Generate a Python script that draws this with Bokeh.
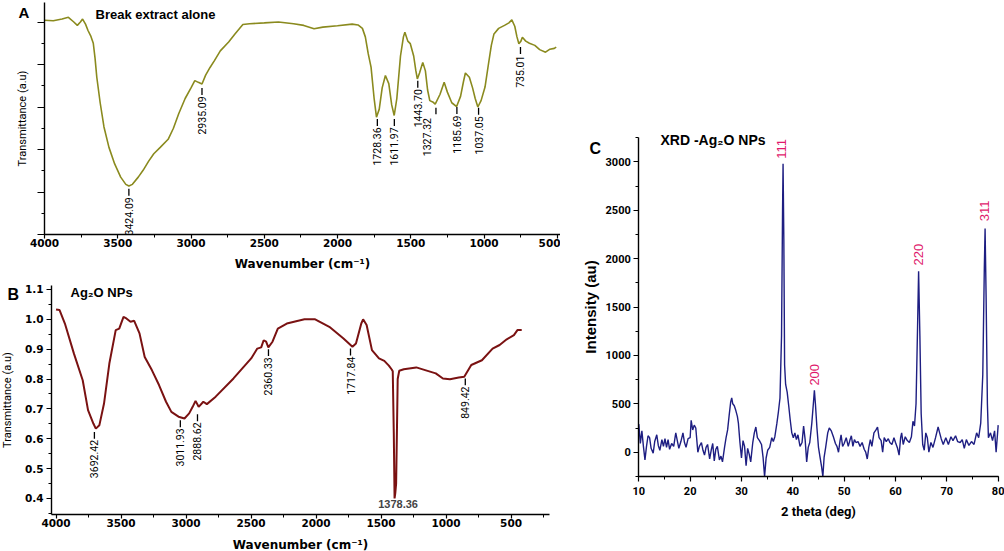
import math
from bokeh.plotting import figure
from bokeh.layouts import row, column
from bokeh.models import (ColumnDataSource, Label, Range1d, SingleIntervalTicker,
                          NumeralTickFormatter, CustomJSTickFormatter)
from bokeh.core.properties import value
from bokeh.embed import file_html
from bokeh.resources import INLINE

# ---------------- Panel A: FTIR of extract ----------------
a_wavenumber = [4000, 3940, 3880, 3837, 3800, 3776, 3755, 3740, 3720, 3703, 3683, 3667, 3655, 3643,
                3620, 3594, 3560, 3521, 3480, 3445, 3424, 3400, 3360, 3327, 3290, 3254, 3210, 3156,
                3120, 3084, 3040, 3000, 2974, 2950, 2925, 2900, 2870, 2840, 2800, 2743, 2700, 2646,
                2600, 2500, 2403, 2300, 2230, 2160, 2100, 2000, 1900, 1860, 1830, 1810, 1790, 1771,
                1750, 1734, 1715, 1695, 1673, 1650, 1630, 1613, 1595, 1570, 1550, 1540, 1520, 1503,
                1480, 1465, 1455, 1440, 1418, 1400, 1385, 1370, 1350, 1333, 1300, 1272, 1250, 1220,
                1187, 1160, 1140, 1127, 1100, 1078, 1060, 1042, 1020, 993, 970, 950, 932, 900, 860,
                830, 810, 790, 775, 762, 748, 738, 715, 690, 653, 620, 580, 550, 520, 507]
a_transmittance = [5.04, 5.03, 5.07, 5.11, 5.00, 4.92, 5.00, 5.07, 4.95, 4.80, 4.66, 4.50, 4.15, 3.70,
                   3.10, 2.53, 2.05, 1.66, 1.35, 1.18, 1.14, 1.18, 1.35, 1.51, 1.72, 1.90, 2.05, 2.24,
                   2.50, 2.84, 3.20, 3.45, 3.62, 3.58, 3.54, 3.75, 3.93, 4.09, 4.32, 4.53, 4.72, 4.94,
                   4.96, 4.98, 5.00, 4.96, 4.92, 4.84, 4.88, 4.91, 4.95, 4.93, 4.85, 4.65, 4.25, 3.94,
                   3.20, 2.76, 2.95, 3.45, 3.74, 3.55, 3.05, 2.80, 3.20, 4.20, 4.65, 4.76, 4.55, 4.49,
                   4.20, 3.85, 3.66, 3.80, 4.05, 3.85, 3.40, 3.15, 3.12, 3.07, 3.30, 3.58, 3.35, 3.10,
                   3.01, 3.25, 3.60, 3.80, 3.70, 3.45, 3.20, 3.00, 3.15, 3.47, 4.00, 4.45, 4.72, 4.85, 4.92,
                   4.98, 5.05, 4.90, 4.65, 4.49, 4.55, 4.64, 4.55, 4.50, 4.45, 4.35, 4.29, 4.36, 4.38, 4.41]
a_peak_text = ["3424.09", "2935.09", "1728.36", "1611.97", "1443.70", "1327.32", "1185.69", "1037.05", "735.01"]
a_text_x = [3424, 2925, 1728, 1612, 1452, 1392, 1185, 1037, 751]
a_text_top = [0.875, 3.25, 2.52, 2.52, 3.42, 2.74, 2.80, 2.78, 4.21]
a_dash_x = [3424, 2925, 1728, 1612, 1452, 1328, 1185, 1037, 751]
a_dash_top = [1.075, 3.45, 2.72, 2.72, 3.62, 2.98, 3.00, 2.98, 4.41]
a_dash_bottom = [0.91, 3.285, 2.555, 2.555, 3.455, 2.83, 2.835, 2.815, 4.245]

# ---------------- Panel B: FTIR of Ag2O NPs ----------------
b_wavenumber = [4000, 3973, 3932, 3863, 3795, 3754, 3713, 3694, 3667, 3631, 3590, 3541, 3514, 3481,
                3459, 3427, 3399, 3358, 3318, 3263, 3208, 3154, 3113, 3058, 3012, 2976, 2949, 2927,
                2903, 2867, 2840, 2772, 2635, 2499, 2452, 2422, 2403, 2384, 2367, 2335, 2294, 2225,
                2089, 2007, 1898, 1789, 1720, 1693, 1652, 1638, 1611, 1570, 1516, 1475, 1440, 1418,
                1410, 1402, 1396, 1390, 1384, 1378, 1372, 1360, 1325, 1229, 1161, 1079, 1024, 970,
                902, 860, 806, 724, 642, 588, 533, 478, 451, 418]
b_transmittance = [1.033, 1.031, 0.986, 0.886, 0.796, 0.696, 0.651, 0.634, 0.645, 0.718, 0.852, 0.964,
                   0.969, 1.008, 1.003, 0.992, 0.995, 0.953, 0.874, 0.830, 0.780, 0.724, 0.690, 0.674,
                   0.668, 0.685, 0.707, 0.727, 0.707, 0.724, 0.716, 0.741, 0.802, 0.869, 0.902, 0.906,
                   0.930, 0.925, 0.906, 0.925, 0.969, 0.986, 1.000, 1.000, 0.975, 0.936, 0.908, 0.919,
                   0.986, 1.000, 0.981, 0.897, 0.869, 0.861, 0.845, 0.832, 0.826, 0.62, 0.40, 0.42,
                   0.45, 0.62, 0.80, 0.828, 0.833, 0.839, 0.830, 0.819, 0.802, 0.799,
                   0.805, 0.808, 0.847, 0.863, 0.902, 0.914, 0.933, 0.947, 0.964, 0.964]
b_peak_text = ["3692.42", "3011.93", "2888.62", "2360.33", "1717.84", "849.42"]
b_text_x = [3705, 3044, 2912, 2366, 1735, 852]
b_dash_top = [0.623, 0.662, 0.682, 0.900, 0.902, 0.802]
b_text_top = [0.596, 0.635, 0.655, 0.873, 0.875, 0.775]
b_dash_bottom = [0.600, 0.639, 0.659, 0.877, 0.879, 0.779]
b_main_peak_text = "1378.36"
b_main_peak_x = 1369
b_main_peak_y = 0.383

# ---------------- Panel C: XRD ----------------
c_two_theta = [10.0, 10.3, 10.6, 10.9, 11.2, 11.5, 11.8, 12.1, 12.4, 12.8, 13.1, 13.5, 13.8, 14.1, 14.5,
               14.8, 15.1, 15.4, 15.7, 16.0, 16.4, 16.8, 17.2, 17.5, 17.8, 18.2, 18.6, 18.9, 19.2, 19.6,
               20.0, 20.2, 20.5, 20.8, 21.1, 21.5, 21.8, 22.2, 22.5, 22.8, 23.1, 23.4, 23.8, 24.1, 24.4,
               24.7, 25.0, 25.3, 25.7, 26.0, 26.3, 26.7, 27.0, 27.3, 27.6, 27.9, 28.1, 28.3, 28.6, 28.9,
               29.2, 29.4, 29.7, 30.0, 30.3, 30.6, 30.9, 31.2, 31.5, 31.8, 32.2, 32.5, 32.8, 33.1, 33.5,
               33.9, 34.2, 34.5, 34.8, 35.1, 35.5, 35.9, 36.2, 36.5, 36.9, 37.2, 37.5, 37.8, 38.0, 38.1,
               38.25, 38.4, 38.6, 38.9, 39.2, 39.5, 39.8, 40.1, 40.4, 40.7, 41.0, 41.4, 41.8, 42.1, 42.4,
               42.7, 43.0, 43.3, 43.7, 44.0, 44.2, 44.4, 44.7, 45.0, 45.3, 45.6, 45.85, 46.1, 46.4, 46.8,
               47.1, 47.5, 47.9, 48.3, 48.6, 48.9, 49.2, 49.4, 49.7, 50.0, 50.4, 50.8, 51.1, 51.4, 51.7,
               52.0, 52.3, 52.7, 53.1, 53.5, 53.9, 54.2, 54.5, 54.8, 55.1, 55.4, 55.8, 56.2, 56.5, 56.8,
               57.2, 57.5, 57.8, 58.2, 58.6, 58.9, 59.3, 59.7, 60.0, 60.4, 60.7, 61.0, 61.2, 61.5, 61.9,
               62.3, 62.7, 63.1, 63.4, 63.7, 64.0, 64.3, 64.5, 64.75, 65.0, 65.3, 65.6, 65.9, 66.2, 66.5,
               66.9, 67.3, 67.8, 68.3, 68.6, 68.9, 69.3, 69.8, 70.3, 70.8, 71.2, 71.7, 72.1, 72.6, 73.0,
               73.4, 73.8, 74.3, 74.8, 75.3, 75.8, 76.2, 76.6, 77.0, 77.3, 77.45, 77.65, 77.9, 78.1, 78.5,
               78.9, 79.3, 79.6, 80.0]
c_intensity = [290, 90, 220, 60, -80, 60, 170, 150, 40, -10, 110, 180, 70, 20, 130,
               60, 140, 50, 130, 30, 90, 60, 200, 120, 40, 110, 200, 100, 50, 140,
               150, 330, 230, 280, 250, 0, 60, 100, 20, -30, 50, 80, -70, 20, 90,
               -90, 30, 60, -80, -40, -100, 50, 150, 230, 380, 520, 560, 500, 480, 430,
               370, 300, 100, -60, 120, 60, -140, 40, -20, -100, 100, 200, 260, 150, 120,
               80, -50, -250, -60, 20, 50, 150, 110, 160, 300, 420, 560, 1200, 2500, 2980,
               2200, 900, 700, 620, 480, 330, 200, 150, 200, 130, 180, 60, 100, 270, 130,
               -100, 50, 100, 300, 500, 640, 500, 250, 50, -50, -150, -250, -50, 50, 200,
               250, 220, 160, 90, 60, 0, 120, 180, 60, 90, 150, 60, 120, 170, 60,
               130, 100, 110, 60, 100, 30, 0, -70, 50, 130, 60, 200, 230, 260, 150,
               120, 0, 150, 110, 140, 100, 80, 150, 100, 40, -30, 150, 200, 80, 160,
               120, 100, 160, 320, 270, 500, 1300, 1870, 1200, 400, 80, 20, 200, 150, 0,
               100, 50, 150, 260, 200, 140, 80, 150, 80, 160, 120, 170, 110, 100, 130,
               40, 130, 70, 110, 80, 200, 150, 300, 800, 1900, 2310, 1600, 500, 150, 200,
               120, 220, 0, 280]
c_hkl = ["111", "200", "220", "311"]
c_hkl_x = [37.7, 44.2, 64.5, 77.3]
c_hkl_top = [3236, 912, 2152, 2600]

# ---------------- styling ----------------
NARROW = "Roboto"
WIDE_BOLD = "DejaVu Sans"
SANS = "Liberation Sans"


def style_axis(ax, font, size, style, label_font, label_size, label_style):
    ax.axis_line_width = 1.4
    ax.axis_line_color = "black"
    ax.major_tick_line_width = 1.2
    ax.minor_tick_line_width = 1.0
    ax.major_tick_in = 0
    ax.major_tick_out = 5
    ax.minor_tick_in = 0
    ax.minor_tick_out = 3
    ax.major_label_text_font = font
    ax.major_label_text_font_size = size
    ax.major_label_text_font_style = style
    ax.major_label_text_color = "black"
    ax.axis_label_text_font = label_font
    ax.axis_label_text_font_size = label_size
    ax.axis_label_text_font_style = label_style
    ax.axis_label_text_color = "black"


def bare_figure(w, h, xr, yr):
    p = figure(width=w, height=h, x_range=xr, y_range=yr, output_backend="svg",
               toolbar_location=None, min_border_left=0, min_border_right=0,
               min_border_top=0, min_border_bottom=0)
    p.outline_line_color = None
    p.grid.visible = False
    return p


def screen_label(p, h, x, y_from_top, text, font, size, style="bold", baseline="top", color="black"):
    p.add_layout(Label(x=x, y=h - y_from_top, x_units="screen", y_units="screen", text=text,
                       text_font=font, text_font_size=size, text_font_style=style,
                       text_align="left", text_baseline=baseline, text_color=color))


# ---------------- Panel A ----------------
A_W, A_H = 560, 272
A_PX = 0.1465          # px per cm-1
A_PY = 42.5            # px per unit
A_AXIS_X, A_AXIS_Y = 44, 234
a_x0 = 4000 + A_AXIS_X / A_PX
a_x1 = 4000 - (A_W - A_AXIS_X) / A_PX
a_top = (A_AXIS_Y - 2) / A_PY
pA = bare_figure(A_W, A_H, Range1d(a_x0, a_x1), Range1d(-(A_H - A_AXIS_Y) / A_PY, A_AXIS_Y / A_PY))
pA.line(a_wavenumber, a_transmittance, line_color="#8a8a1e", line_width=1.6)
srcA = ColumnDataSource(dict(x=a_text_x, y=a_text_top, t=a_peak_text))
pA.text(x="x", y="y", text="t", source=srcA, angle=math.pi / 2, text_align="right",
        text_baseline="middle", text_font=value(NARROW), text_font_size="10.5px", text_color="black")
pA.segment(x0=a_dash_x, y0=a_dash_bottom, x1=a_dash_x, y1=a_dash_top, line_color="black", line_width=1.3)

axA_x = pA.xaxis[0]
axA_y = pA.yaxis[0]
axA_x.fixed_location = 0
axA_x.bounds = (a_x1, 4000)
axA_y.fixed_location = 4000
axA_y.bounds = (0, a_top)
axA_x.ticker = SingleIntervalTicker(interval=500, num_minor_ticks=2)
axA_y.ticker = SingleIntervalTicker(interval=1, num_minor_ticks=2)
axA_y.formatter = CustomJSTickFormatter(code="return ''")
style_axis(axA_x, WIDE_BOLD, "10.5px", "bold", WIDE_BOLD, "12px", "bold")
style_axis(axA_y, NARROW, "10px", "normal", NARROW, "11px", "normal")
axA_x.major_tick_out = 4
axA_y.major_tick_out = 7
axA_x.major_label_standoff = 0
axA_x.axis_label_standoff = 7
axA_y.major_label_standoff = 0
axA_y.axis_label_standoff = 9
axA_x.axis_label = "Wavenumber (cm⁻¹)"
axA_y.axis_label = "Transmittance (a.u)"
screen_label(pA, A_H, 18, 3, "A", SANS, "15px")
screen_label(pA, A_H, 95, 14, "Break extract alone", SANS, "13px", baseline="middle")

# ---------------- Panel B ----------------
B_W, B_H = 560, 551 - A_H
B_PX = 0.13
B_PY = 298.6
B_AXIS_X, B_AXIS_Y = 51, 242
b_xstart = 4035
b_xend = 208
b_ybottom = 0.3464
b_ytop = 1.1135
b_x0 = b_xstart + B_AXIS_X / B_PX
b_x1 = b_xstart - (B_W - B_AXIS_X) / B_PX
pB = bare_figure(B_W, B_H, Range1d(b_x0, b_x1),
                 Range1d(b_ybottom - (B_H - B_AXIS_Y) / B_PY, b_ybottom + B_AXIS_Y / B_PY))
pB.line(b_wavenumber, b_transmittance, line_color="#7a1212", line_width=2)
srcB = ColumnDataSource(dict(x=b_text_x, y=b_text_top, t=b_peak_text))
pB.text(x="x", y="y", text="t", source=srcB, angle=math.pi / 2, text_align="right",
        text_baseline="middle", text_font=value(NARROW), text_font_size="10.5px", text_color="black")
pB.segment(x0=b_text_x, y0=b_dash_bottom, x1=b_text_x, y1=b_dash_top, line_color="black", line_width=1.3)
pB.add_layout(Label(x=b_main_peak_x, y=b_main_peak_y, text=b_main_peak_text, text_font=SANS,
                    text_font_size="11px", text_font_style="bold", text_align="center",
                    text_baseline="middle"))
axB_x = pB.xaxis[0]
axB_y = pB.yaxis[0]
axB_x.fixed_location = b_ybottom
axB_x.bounds = (b_xend, b_xstart)
axB_y.fixed_location = b_xstart
axB_y.bounds = (b_ybottom, b_ytop)
axB_x.ticker = SingleIntervalTicker(interval=500, num_minor_ticks=2)
axB_y.ticker = SingleIntervalTicker(interval=0.1, num_minor_ticks=2)
axB_y.formatter = NumeralTickFormatter(format="0.0")
style_axis(axB_x, WIDE_BOLD, "10.5px", "bold", WIDE_BOLD, "12px", "bold")
style_axis(axB_y, WIDE_BOLD, "10.5px", "bold", NARROW, "11px", "normal")
axB_x.major_tick_out = 4
axB_x.major_label_standoff = 0
axB_x.axis_label_standoff = 8
axB_y.major_label_standoff = 3
axB_y.axis_label_standoff = 8
axB_x.axis_label = "Wavenumber (cm⁻¹)"
axB_y.axis_label = "Transmittance (a.u)"
screen_label(pB, B_H, 7, 13, "B", SANS, "16px")
screen_label(pB, B_H, 70, 20, "Ag₂O NPs", SANS, "13px", baseline="middle")

# ---------------- Panel C ----------------
C_W, C_H = 444, 551
C_PX = 5.134
C_PY = 0.0968
C_AXIS_X, C_ZERO_Y = 78.3, 451.7
c_ybottom = -250
c_ytop = 3251
pC = bare_figure(C_W, C_H, Range1d(10 - C_AXIS_X / C_PX, 10 + (C_W - C_AXIS_X) / C_PX),
                 Range1d(-(C_H - C_ZERO_Y) / C_PY, C_ZERO_Y / C_PY))
pC.line(c_two_theta, c_intensity, line_color="#1e1e82", line_width=1.4)
srcC = ColumnDataSource(dict(x=c_hkl_x, y=c_hkl_top, t=c_hkl))
pC.text(x="x", y="y", text="t", source=srcC, angle=math.pi / 2, text_align="right",
        text_baseline="middle", text_font=value(SANS), text_font_size="13px", text_color="#e0186c")
axC_x = pC.xaxis[0]
axC_y = pC.yaxis[0]
axC_x.fixed_location = c_ybottom
axC_x.bounds = (10, 80)
axC_y.fixed_location = 10
axC_y.bounds = (c_ybottom, c_ytop)
axC_x.ticker = SingleIntervalTicker(interval=10, num_minor_ticks=2)
axC_y.ticker = SingleIntervalTicker(interval=500, num_minor_ticks=2)
style_axis(axC_x, NARROW, "11px", "bold", NARROW, "13px", "bold")
style_axis(axC_y, NARROW, "11px", "bold", SANS, "15px", "bold")
axC_x.major_label_standoff = 6
axC_x.axis_label_standoff = 5
axC_y.major_label_standoff = 3
axC_y.axis_label_standoff = 3
axC_x.axis_label = "2 theta (deg)"
axC_y.axis_label = "Intensity (au)"
screen_label(pC, C_H, 29, 139, "C", SANS, "16px")
screen_label(pC, C_H, 100, 139.3, "XRD -Ag₂O NPs", SANS, "14px", baseline="middle")

layout = row(column(pA, pB), pC)
open("out.html", "w").write(file_html(layout, INLINE))
